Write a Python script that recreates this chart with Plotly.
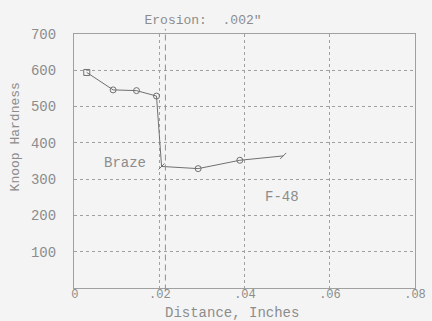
import plotly.graph_objects as go

# Data
distance = [0.0028, 0.0090, 0.0145, 0.0192, 0.0204, 0.0290, 0.0388, 0.0490]
hardness = [594, 546, 544, 529, 335, 329, 352, 364]
braze_boundary = 0.0213

x_ticks = [0, 0.02, 0.04, 0.06, 0.08]
x_tick_labels = ["0", ".02", ".04", ".06", ".08"]
y_ticks = [100, 200, 300, 400, 500, 600, 700]
y_tick_labels = ["100", "200", "300", "400", "500", "600", "700"]

title_text = 'Erosion:  .002"'
x_title = "Distance, Inches"
y_title = "Knoop Hardness"
annotations_text = ["Braze", "F-48"]
annotations_pos = [(0.0118, 345), (0.0487, 250)]

marker_symbols = ["square-open", "circle-open", "circle-open", "circle-open",
                  "line-ne-open", "circle-open", "circle-open", "line-ne-open"]

FONT = "Liberation Mono, Courier New, monospace"
TEXT = "#8c8c8c"
LINE = "#707070"
GRID = "#a0a0a0"

fig = go.Figure()
fig.add_trace(go.Scatter(
    x=distance, y=hardness, mode="lines+markers",
    line=dict(color=LINE, width=1),
    marker=dict(symbol=marker_symbols, size=6, color=LINE,
                line=dict(color=LINE, width=1)),
    showlegend=False, hoverinfo="skip",
))

fig.add_shape(type="line", xref="x", yref="paper", x0=braze_boundary, x1=braze_boundary,
              y0=-0.01, y1=1.02, line=dict(color="#909090", width=1, dash="6px,4px"))

for txt, (ax, ay) in zip(annotations_text, annotations_pos):
    fig.add_annotation(x=ax, y=ay, text=txt, showarrow=False,
                       font=dict(family=FONT, size=14, color=TEXT))

# axis titles placed as annotations to match the reference positions
fig.add_annotation(xref="paper", yref="paper", x=0.463, y=-0.097, text=x_title,
                   showarrow=False, xanchor="center", yanchor="middle",
                   font=dict(family=FONT, size=14, color=TEXT))
fig.add_annotation(xref="paper", yref="paper", x=-0.173, y=0.593, text=y_title,
                   showarrow=False, xanchor="center", yanchor="middle", textangle=-90,
                   font=dict(family=FONT, size=13, color=TEXT))

fig.update_layout(
    width=432, height=321,
    margin=dict(l=74, r=17, t=34, b=33),
    paper_bgcolor="#f4f4f4", plot_bgcolor="#f4f4f4",
    font=dict(family=FONT, size=13, color=TEXT),
    title=dict(text=title_text, x=0.47, xanchor="center", y=0.938, yanchor="middle",
               font=dict(family=FONT, size=13, color=TEXT)),
)
fig.update_xaxes(
    range=[-0.0002, 0.08], tickvals=x_ticks, ticktext=x_tick_labels,
    showgrid=True, gridcolor=GRID, griddash="dot", gridwidth=1,
    showline=True, linecolor=GRID, mirror=True, zeroline=False,
    ticks="", automargin=False, ticklabelstandoff=-5,
    tickfont=dict(family=FONT, size=12, color=TEXT),
)
fig.update_yaxes(
    range=[0, 700], tickvals=y_ticks, ticktext=y_tick_labels,
    showgrid=True, gridcolor=GRID, griddash="dot", gridwidth=1,
    showline=True, linecolor=GRID, mirror=True, zeroline=False,
    ticks="", automargin=False, ticklabelstandoff=14,
    tickfont=dict(family=FONT, size=14, color=TEXT),
)

fig.write_html("out.html",
               config={"displayModeBar": False},
               post_script="document.body.style.margin='0';"
                           "document.body.style.background='#f4f4f4';")
